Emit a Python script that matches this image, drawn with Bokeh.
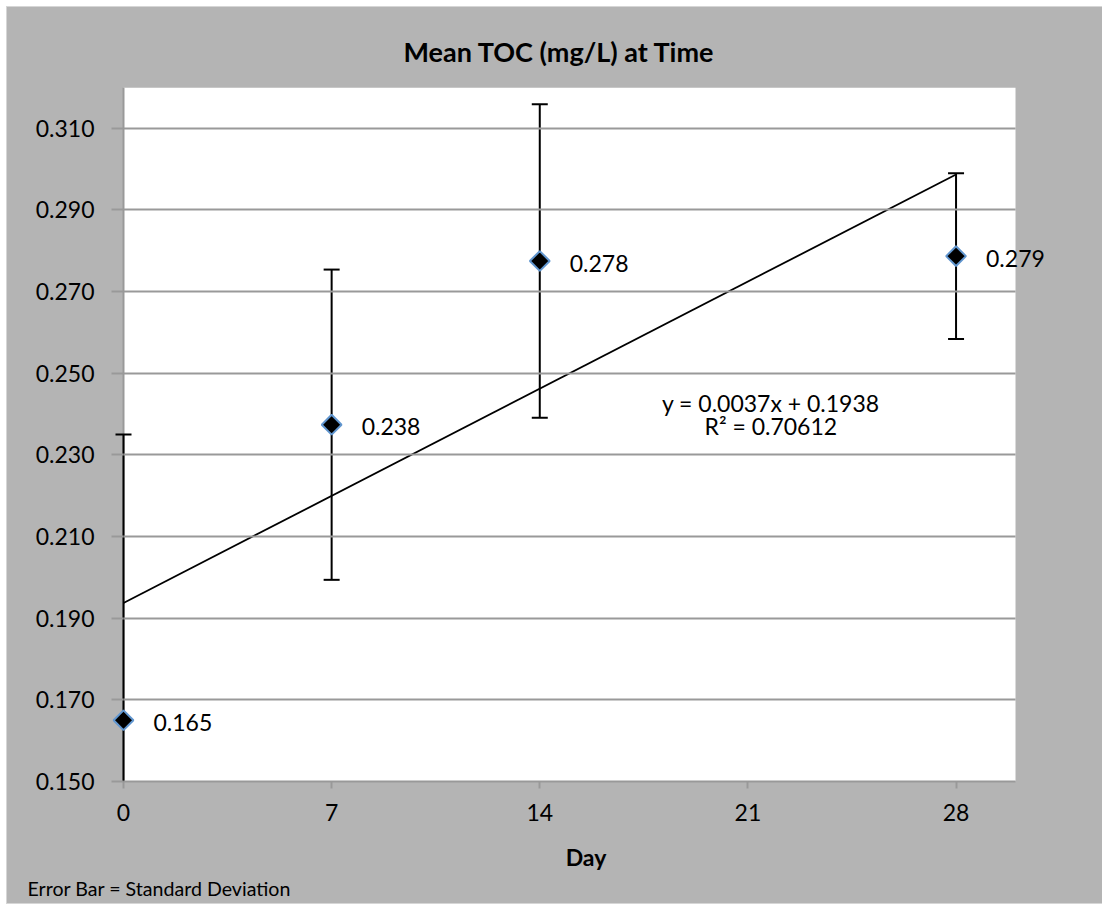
import numpy as np
from bokeh.plotting import figure
from bokeh.models import (Range1d, FixedTicker, LabelSet, Label, Title,
                          ColumnDataSource, NumeralTickFormatter)
from bokeh.core.properties import value
from bokeh.embed import file_html
from bokeh.resources import INLINE

# ---- data ----
days = [0, 7, 14, 28]
mean_toc = [0.165, 0.2374, 0.2775, 0.2787]
std_dev = [0.070, 0.038, 0.0384, 0.0203]
point_labels = ["0.165", "0.238", "0.278", "0.279"]
x_ticks = [0, 7, 14, 21, 28]
y_ticks = [0.150, 0.170, 0.190, 0.210, 0.230, 0.250, 0.270, 0.290, 0.310]
equation_text = "y = 0.0037x + 0.1938"
r2_text = "R² = 0.70612"
title_text = "Mean TOC (mg/L) at Time"
x_title = "Day"
footer_text = "Error Bar = Standard Deviation"

GRAY_BG = "#b4b4b4"
GRID = "#999999"
FONT = "Lato"

upper = [m + s for m, s in zip(mean_toc, std_dev)]
lower = [m - s for m, s in zip(mean_toc, std_dev)]
src = ColumnDataSource(dict(day=days, mean=mean_toc, upper=upper, lower=lower, label=point_labels))

# linear trendline fitted to the means (as in the chart)
trend_slope, trend_intercept = np.polyfit(days, mean_toc, 1)

# plot area is x 0..30 (white); the frame is a little wider (grey) so edge marks/labels are not clipped
x_lo, x_axis_end, x_hi = -0.4036, 30, 31.513
p = figure(width=1095, height=896, x_range=Range1d(x_lo, x_hi), y_range=Range1d(0.150, 0.320),
           output_backend="svg", toolbar_location=None,
           min_border_left=104, min_border_right=42, min_border_top=80, min_border_bottom=122)
p.margin = (7, 0, 0, 7)
p.styles = {"background-color": GRAY_BG, "outline": "1px solid #d6d6d6"}
p.background_fill_color = GRAY_BG
p.border_fill_color = GRAY_BG
p.outline_line_color = None

# title
p.title.text = title_text
p.title.align = "left"
p.title.offset = 292
p.title.standoff = 40
p.title.text_font = FONT
p.title.text_font_size = "27px"
p.title.text_font_style = "bold"
p.title.text_color = "black"

# white plot area 0..30
plot_area = p.vstrip(x0=[0], x1=[x_axis_end], fill_color="white", fill_alpha=1.0, line_color=None)
plot_area.level = "underlay"

# horizontal gridlines across the plot area only (0.150 is the x axis itself)
p.xgrid.visible = False
grid_y = y_ticks[1:]
if "cross_bounds" in p.ygrid.properties():
    p.ygrid.ticker = FixedTicker(ticks=grid_y)
    p.ygrid.grid_line_color = GRID
    p.ygrid.grid_line_width = 2
    p.ygrid.cross_bounds = (0, x_axis_end)
    p.ygrid.level = "glyph"
else:
    p.ygrid.visible = False
    p.segment(x0=[0] * len(grid_y), x1=[x_axis_end] * len(grid_y), y0=grid_y, y1=grid_y,
              line_color=GRID, line_width=2)

# y axis line at x=0
p.vspan(x=[0], line_color=GRID, line_width=2)

# axes
p.xaxis.ticker = FixedTicker(ticks=x_ticks)
p.xaxis.bounds = (0, x_axis_end)
p.xaxis.axis_line_color = GRID
p.xaxis.axis_line_width = 2
p.xaxis.major_tick_line_color = GRID
p.xaxis.major_tick_line_width = 2
p.xaxis.major_tick_out = 7
p.xaxis.major_tick_in = 0
p.xaxis.minor_tick_line_color = None
p.xaxis.major_label_standoff = 15
p.xaxis.axis_label = x_title
p.xaxis.axis_label_text_font = FONT
p.xaxis.axis_label_text_font_size = "23px"
p.xaxis.axis_label_text_font_style = "bold"
p.xaxis.axis_label_text_color = "black"
p.xaxis.axis_label_standoff = 19

p.yaxis.ticker = FixedTicker(ticks=y_ticks)
p.yaxis.formatter = NumeralTickFormatter(format="0.000")
p.yaxis.axis_line_color = None
p.yaxis.major_tick_line_color = GRID
p.yaxis.major_tick_line_width = 2
p.yaxis.major_tick_out = 0
p.yaxis.major_tick_in = 12
p.yaxis.minor_tick_line_color = None
p.yaxis.major_label_standoff = 17

for ax in (p.xaxis, p.yaxis):
    ax.major_label_text_font = FONT
    ax.major_label_text_font_size = "23px"
    ax.major_label_text_color = "black"

# trend line
tx = [days[0], days[-1]]
ty = [trend_intercept + trend_slope * v for v in tx]
p.line(tx, ty, line_color="black", line_width=1.8)

# error bars
p.segment(x0="day", y0="lower", x1="day", y1="upper", source=src, line_color="black", line_width=2)
p.scatter(x="day", y="upper", source=src, marker="dash", size=16, line_color="black", line_width=2)
p.scatter(x="day", y="lower", source=src, marker="dash", size=16, line_color="black", line_width=2)

# markers
p.scatter(x="day", y="mean", source=src, marker="square", angle=np.pi / 4, size=14,
          fill_color="black", line_color="#6196cf", line_width=2)

# data labels
p.add_layout(LabelSet(x="day", y="mean", text="label", source=src, x_offset=30, y_offset=-2,
                      text_align="left", text_baseline="middle", text_font=value(FONT),
                      text_font_size="23px", text_color="black"))

# equation
p.add_layout(Label(x=21.77, y=0.2428, text=equation_text, text_align="center", text_baseline="middle",
                   text_font=FONT, text_font_size="23px", text_color="black"))
p.add_layout(Label(x=21.77, y=0.2372, text=r2_text, text_align="center", text_baseline="middle",
                   text_font=FONT, text_font_size="23px", text_color="black"))

# footer note
p.add_layout(Title(text=footer_text, align="left", offset=-84, standoff=2, text_font=FONT,
                   text_font_size="19.6px", text_font_style="normal", text_color="black"), "below")

open("out.html", "w").write(file_html(p, INLINE))
